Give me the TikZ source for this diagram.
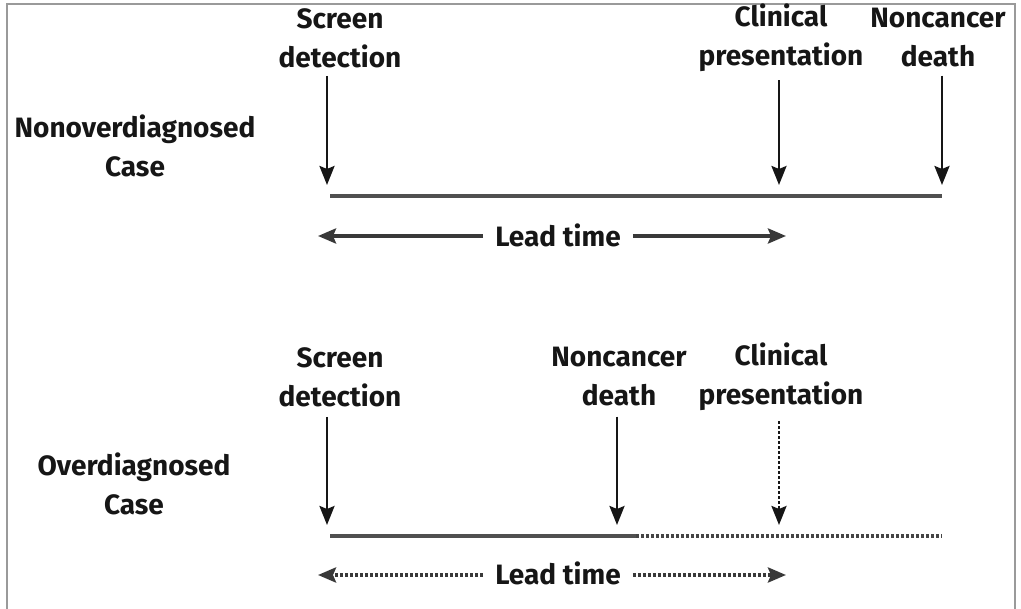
\documentclass[tikz,border=0pt]{standalone}
\usepackage{fontspec}
\setmainfont{Fira Sans}
\usetikzlibrary{arrows.meta}
\definecolor{ink}{HTML}{161616}
\definecolor{tline}{HTML}{505050}
\definecolor{frame}{HTML}{9A9A9A}
\begin{document}
\begin{tikzpicture}[x=1pt,y=-1pt,
  lbl/.style={font=\fontsize{28}{39}\selectfont\bfseries,text=ink,align=center,inner sep=0pt},
  varrow/.style={draw=ink,line width=2.6pt,-{Stealth[length=19pt,width=15pt,inset=3pt]}},
  dvarrow/.style={varrow,dash pattern=on 3pt off 2pt},
  timeline/.style={draw=tline,line width=4.5pt},
  dtimeline/.style={draw=ink!80,line width=4pt,dash pattern=on 3pt off 2pt},
  leadarrow/.style={draw=ink!85,line width=3.5pt,-{Stealth[length=18pt,width=15pt,inset=3pt]}},
  dleadarrow/.style={leadarrow,dash pattern=on 3pt off 2pt}]
\useasboundingbox (0,0) rectangle (1021,609);
\draw[frame,line width=1.5pt] (7,609) -- (7,4) -- (1015,4) -- (1015,609);

% ---------- top: nonoverdiagnosed ----------
\node[lbl] (sd1) at (340,38) {Screen\\detection};
\node[lbl] (cp1) at (781,38) {Clinical\\presentation};
\node[lbl] (nd1) at (938,38) {Noncancer\\death};
\node[lbl] (case1) at (135,146) {Nonoverdiagnosed\\Case};

\coordinate (a1) at (330,196);
\coordinate (b1) at (779,196);
\coordinate (c1) at (942,196);
\draw[timeline] (a1) -- (c1);
\draw[varrow,shorten >=11pt] (sd1.south -| 327,0) ++(0,8) -- (327,196);
\draw[varrow,shorten >=11pt] (cp1.south -| b1) ++(0,8) -- (b1);
\draw[varrow,shorten >=11pt] (nd1.south -| c1) ++(0,8) -- (c1);

\node[lbl] (lt1) at (558,235) {Lead time};
\coordinate (l1) at (318,236);
\coordinate (r1) at (786,236);
\draw[leadarrow] (lt1.west |- l1) ++(-12,0) -- (l1);
\draw[leadarrow] (lt1.east |- r1) ++(12,0) -- (r1);

% ---------- bottom: overdiagnosed ----------
\node[lbl] (sd2) at (340,377) {Screen\\detection};
\node[lbl] (nd2) at (619,377) {Noncancer\\death};
\node[lbl] (cp2) at (781,377) {Clinical\\presentation};
\node[lbl] (case2) at (134,484) {Overdiagnosed\\Case};

\coordinate (a2) at (330,536);
\coordinate (d2) at (636,536);
\coordinate (e2) at (942,536);
\draw[timeline] (a2) -- (d2);
\draw[dtimeline] (d2) -- (e2);
\draw[varrow,shorten >=11pt] (sd2.south -| 327,0) ++(0,10) -- (327,536);
\draw[varrow,shorten >=11pt] (nd2.south -| 617,0) ++(0,10) -- (617,536);
\draw[dvarrow,shorten >=11pt] (cp2.south -| 779,0) ++(0,10) -- (779,536);

\node[lbl] (lt2) at (558,573) {Lead time};
\coordinate (l2) at (318,575);
\coordinate (r2) at (786,575);
\draw[dleadarrow] (lt2.west |- l2) ++(-12,0) -- (l2);
\draw[dleadarrow] (lt2.east |- r2) ++(12,0) -- (r2);
\end{tikzpicture}
\end{document}
